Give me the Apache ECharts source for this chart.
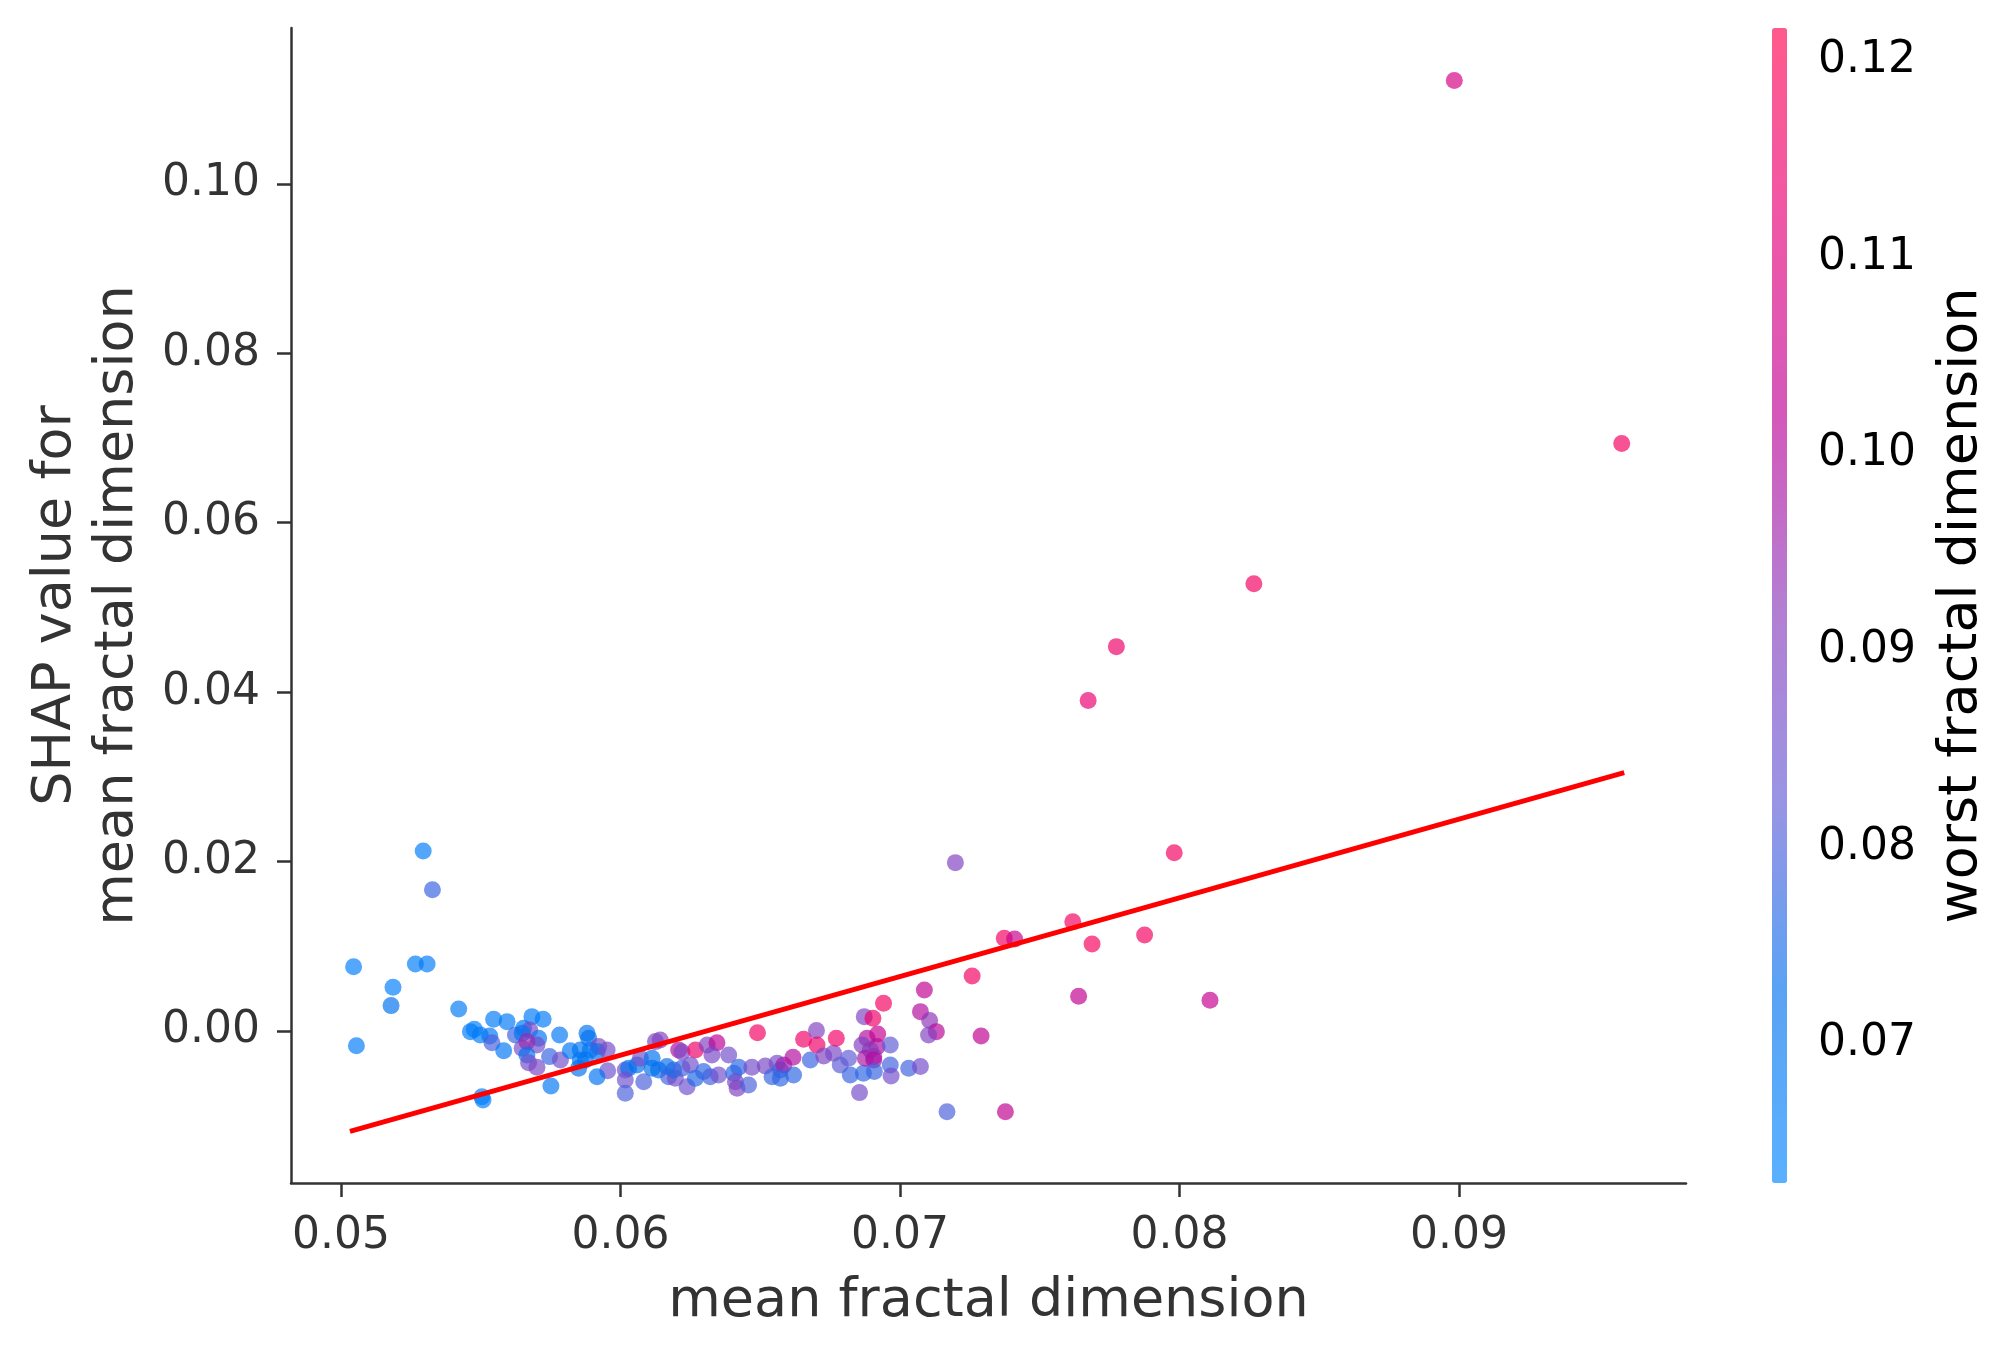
<!DOCTYPE html>
<html>
<head>
<meta charset="utf-8">
<script src="https://cdn.jsdelivr.net/npm/echarts@6/dist/echarts.min.js"></script>
<style>
html,body{margin:0;padding:0;background:#fff;}
#chart{width:2016px;height:1357px;}
</style>
</head>
<body>
<div id="chart"></div>
<script>
// mean fractal dimension (x), SHAP value (y), worst fractal dimension (colour)
const meanFractal = [
0.05045,0.05266,0.05308,0.05186,0.05179,0.05055,0.05421,0.05546,0.05594,0.05463,
0.05477,0.05498,0.05532,0.05540,0.05582,0.05504,0.05508,0.05294,0.05327,0.05683,
0.05723,0.05653,0.05624,0.05675,0.05648,0.05707,0.05701,0.05648,0.05665,0.05665,
0.05671,0.05701,0.05782,0.05746,0.05785,0.05751,0.05820,0.05880,0.05886,0.05856,
0.05892,0.05922,0.05916,0.05856,0.05874,0.05850,0.05952,0.05954,0.05916,0.06017,
0.06029,0.06017,0.06017,0.06059,0.06071,0.06083,0.06113,0.06113,0.06125,0.06142,
0.06136,0.06166,0.06172,0.06196,0.06208,0.06190,0.06220,0.06268,0.06310,0.06345,
0.06327,0.06387,0.06490,0.06220,0.06250,0.06238,0.06268,0.06297,0.06321,0.06351,
0.06405,0.06423,0.06411,0.06417,0.06458,0.06470,0.06518,0.06542,0.06560,0.06572,
0.06584,0.06572,0.06619,0.06617,0.06655,0.06679,0.06701,0.06703,0.06727,0.06762,
0.06772,0.06786,0.06816,0.06822,0.06869,0.06855,0.06872,0.06903,0.06941,0.06882,
0.06864,0.06920,0.06918,0.06894,0.06876,0.06906,0.06906,0.06965,0.06908,0.06965,
0.06968,0.07031,0.07073,0.07087,0.07073,0.07106,0.07130,0.07102,0.07258,0.07290,
0.07168,0.07377,0.07198,0.07981,0.07373,0.07410,0.07618,0.07687,0.07875,0.07639,
0.08109,0.08983,0.09582,0.08266,0.07774,0.07673
];
const shapValue = [
0.00759,0.00791,0.00791,0.00516,0.00299,-0.00174,0.00260,0.00138,0.00110,-0.00008,
0.00020,-0.00047,-0.00059,-0.00138,-0.00233,-0.00776,-0.00815,0.02125,0.01668,0.00169,
0.00138,0.00032,-0.00047,0.00012,-0.00027,-0.00086,-0.00165,-0.00204,-0.00126,-0.00283,
-0.00374,-0.00429,-0.00047,-0.00303,-0.00342,-0.00649,-0.00233,-0.00027,-0.00086,-0.00224,
-0.00224,-0.00185,-0.00244,-0.00342,-0.00342,-0.00440,-0.00224,-0.00469,-0.00540,-0.00460,
-0.00440,-0.00579,-0.00736,-0.00401,-0.00322,-0.00599,-0.00322,-0.00440,-0.00126,-0.00106,
-0.00460,-0.00421,-0.00540,-0.00558,-0.00224,-0.00460,-0.00248,-0.00224,-0.00165,-0.00138,
-0.00283,-0.00283,-0.00020,-0.00440,-0.00401,-0.00658,-0.00558,-0.00480,-0.00540,-0.00519,
-0.00500,-0.00429,-0.00599,-0.00677,-0.00638,-0.00429,-0.00413,-0.00540,-0.00381,-0.00460,
-0.00401,-0.00558,-0.00519,-0.00311,-0.00098,-0.00342,0.00004,-0.00165,-0.00295,-0.00263,
-0.00086,-0.00401,-0.00322,-0.00519,-0.00500,-0.00728,0.00169,0.00150,0.00327,-0.00086,
-0.00165,-0.00035,-0.00185,-0.00224,-0.00322,-0.00303,-0.00342,-0.00165,-0.00480,-0.00401,
-0.00531,-0.00440,-0.00421,0.00484,0.00228,0.00122,-0.00008,-0.00047,0.00649,-0.00059,
-0.00953,-0.00953,0.01987,0.02105,0.01094,0.01086,0.01290,0.01027,0.01133,0.00410,
0.00362,0.11220,0.06935,0.05280,0.04537,0.03900
];
const worstFractal = [
0.066,0.067,0.067,0.066,0.072,0.067,0.068,0.068,0.068,0.068,
0.066,0.068,0.069,0.080,0.069,0.068,0.066,0.067,0.078,0.068,
0.068,0.069,0.078,0.088,0.070,0.070,0.087,0.086,0.095,0.072,
0.087,0.088,0.069,0.078,0.086,0.069,0.069,0.070,0.072,0.070,
0.070,0.088,0.071,0.070,0.071,0.072,0.087,0.085,0.071,0.086,
0.072,0.085,0.080,0.073,0.086,0.080,0.072,0.072,0.088,0.090,
0.073,0.074,0.079,0.087,0.100,0.075,0.088,0.115,0.090,0.102,
0.088,0.086,0.117,0.079,0.086,0.085,0.076,0.077,0.079,0.086,
0.076,0.077,0.088,0.090,0.080,0.087,0.088,0.078,0.087,0.078,
0.097,0.077,0.077,0.100,0.116,0.078,0.090,0.115,0.089,0.088,
0.116,0.082,0.082,0.078,0.077,0.087,0.089,0.115,0.117,0.100,
0.090,0.104,0.100,0.092,0.098,0.094,0.100,0.082,0.078,0.079,
0.086,0.079,0.087,0.103,0.100,0.093,0.101,0.090,0.117,0.103,
0.080,0.103,0.090,0.117,0.117,0.105,0.117,0.118,0.117,0.103,
0.104,0.108,0.117,0.117,0.115,0.113
];
// fitted trend line end points
const trendX = [0.05032, 0.09591];
const trendY = [-0.01185, 0.0305];
// tick labels
const xTicks = [0.05, 0.06, 0.07, 0.08, 0.09];
const yTicks = [0.00, 0.02, 0.04, 0.06, 0.08, 0.10];
const cTicks = [0.07, 0.08, 0.09, 0.10, 0.11, 0.12];

const pointColors = ['#0185ff','#0170ee','#645ad5','#8a39ba','#bd0095','#e60076','#ff014e'];
const barColors = ['#5ab0ff','#5aa2f4','#9a94e4','#b37ed2','#d458ba','#ef57a6','#ff5a8c'];

const pts = meanFractal.map((x, i) => [x, shapValue[i], worstFractal[i]]);
const trend = trendX.map((x, i) => [x, trendY[i]]);
const FONT = 'DejaVu Sans';
const fmt = v => v.toFixed(2);

const chart = echarts.init(document.getElementById('chart'), null, {renderer: 'canvas'});
chart.setOption({
  animation: false,
  backgroundColor: '#ffffff',
  grid: [
    {left: 291, top: 28, width: 1395, height: 1155},
    {left: 1772, top: 28, width: 15, height: 1155}
  ],
  xAxis: [
    {
      type: 'value', gridIndex: 0, min: 0.04821, max: 0.09812,
      name: 'mean fractal dimension', nameLocation: 'middle', nameGap: 92,
      nameTextStyle: {fontFamily: FONT, fontSize: 54, color: '#333333'},
      axisLine: {show: true, onZero: false, lineStyle: {color: '#333333', width: 2.5}},
      axisTick: {show: true, customValues: xTicks, length: 14, lineStyle: {color: '#333333', width: 2.5}},
      axisLabel: {customValues: xTicks, formatter: fmt, fontFamily: FONT, fontSize: 44, color: '#333333', margin: 32},
      splitLine: {show: false}
    },
    {type: 'value', gridIndex: 1, min: 0, max: 1, show: false}
  ],
  yAxis: [
    {
      type: 'value', gridIndex: 0, min: -0.01795, max: 0.1184,
      name: 'SHAP value for\nmean fractal dimension', nameLocation: 'middle', nameGap: 142,
      nameTextStyle: {fontFamily: FONT, fontSize: 54, lineHeight: 62, color: '#333333'},
      axisLine: {show: true, onZero: false, lineStyle: {color: '#333333', width: 2.5}},
      axisTick: {show: true, customValues: yTicks, length: 14, lineStyle: {color: '#333333', width: 2.5}},
      axisLabel: {customValues: yTicks, formatter: fmt, fontFamily: FONT, fontSize: 44, color: '#333333', margin: 31},
      splitLine: {show: false}
    },
    {
      type: 'value', gridIndex: 1, position: 'right', min: 0.06293, max: 0.12165,
      name: 'worst fractal dimension', nameLocation: 'middle', nameGap: 148,
      nameTextStyle: {fontFamily: FONT, fontSize: 54, color: '#000000'},
      axisLine: {show: false},
      axisTick: {show: true, customValues: cTicks, length: 15, lineStyle: {color: '#000000', width: 2.5}},
      axisLabel: {customValues: cTicks, formatter: fmt, fontFamily: FONT, fontSize: 44, color: '#000000', margin: 31},
      splitLine: {show: false}
    }
  ],
  visualMap: {
    type: 'continuous', seriesIndex: 0, dimension: 2,
    min: 0.06293, max: 0.12165,
    left: 1772, top: 28, itemWidth: 15, itemHeight: 1155, padding: 0,
    calculable: false, hoverLink: false, showLabel: false, text: null,
    inRange: {color: pointColors},
    controller: {inRange: {color: barColors}}
  },
  series: [
    {
      type: 'scatter', xAxisIndex: 0, yAxisIndex: 0, data: pts,
      symbolSize: 17, itemStyle: {opacity: 0.68}, z: 2
    },
    {
      type: 'line', xAxisIndex: 0, yAxisIndex: 0, data: trend,
      symbol: 'none', lineStyle: {color: '#ff0000', width: 5}, z: 3, silent: true
    }
  ]
});
</script>
</body>
</html>
